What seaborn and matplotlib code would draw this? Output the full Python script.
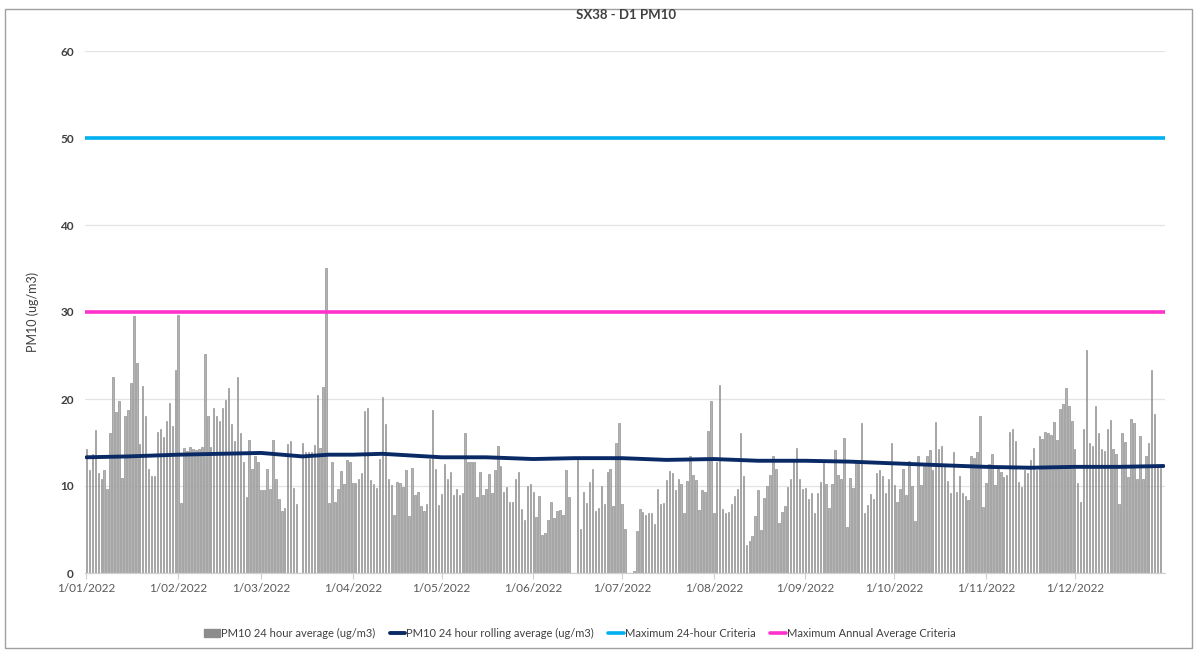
import numpy as np
import pandas as pd
import matplotlib
matplotlib.use("Agg")
import matplotlib.pyplot as plt
from matplotlib.patches import Rectangle, Patch
from matplotlib.lines import Line2D
import seaborn as sns

nan = np.nan

# Daily PM10 24 hour average (ug/m3), 1 Jan 2022 .. 31 Dec 2022
pm10_jan_feb = [
    14.3, 11.8, 13.7, 16.4, 11.5, 10.8, 11.8, 9.7, 16.1, 22.5,
    18.5, 19.8, 10.9, 18.0, 18.7, 21.8, 29.5, 24.1, 14.8, 21.5,
    18.1, 11.9, 11.1, 11.2, 16.2, 16.6, 15.6, 17.5, 19.5, 16.9,
    23.3, 29.7, 8.1, 14.4, 14.0, 14.5, 14.3, 14.1, 14.3, 14.5,
    25.2, 18.0, 14.5, 19.0, 18.0,
]
pm10_feb_apr = [
    17.5, 19.0, 19.9, 21.3, 17.1, 15.2, 22.5, 16.1, 12.8, 8.7,
    15.3, 12.0, 13.5, 12.8, 9.5, 9.5, 12.0, 9.6, 15.3, 10.8,
    8.5, 7.1, 7.5, 14.8, 15.2, 9.8, 7.9, nan, 15.0, 13.9,
    13.9, 13.9, 14.7, 20.5, 14.4, 21.4, 35.1, 8.1, 12.8, 8.2,
    9.7, 11.7, 10.2, 13.0, 12.8, 10.3,
]
pm10_apr_may = [
    10.3, 10.8, 11.5, 18.6, 19.0, 10.7, 10.2, 9.8, 13.1,
    20.2, 17.1, 10.8, 10.1, 6.7, 10.5, 10.3, 9.9, 11.8, 6.5,
    12.1, 9.0, 9.3, 7.7, 7.1, 7.9, 13.1, 18.7, 12.0, 7.8,
    9.1, 12.5, 10.8, 11.6, 9.0, 9.6, 9.0, 9.2, 16.1, 12.8,
    12.8, 12.8, 8.7, 11.6, 9.0,
]
pm10_may_jul = [
    9.7, 11.4, 9.2, 11.8, 14.6,
    12.3, 9.3, 9.9, 8.2, 8.2, 10.8, 11.6, 7.4, 6.1, 10.0,
    10.2, 9.3, 6.4, 8.9, 4.4, 4.6, 6.1, 8.2, 6.3, 7.1,
    7.2, 6.7, 11.8, 8.7, nan, nan, 13.0, 5.1, 9.3, 8.1,
    10.5, 12.0, 7.1, 7.5, 10.0, 7.9, 11.6, 12.0, 7.7, 15.0,
    17.2, 7.9,
]
pm10_jul_aug = [
    5.1, nan, nan, 0.2, 4.8, 7.3, 7.0,
    6.7, 6.9, 6.9, 5.6, 9.7, 7.9, 8.1, 10.7, 11.7, 11.5,
    9.5, 10.8, 10.2, 6.9, 10.6, 13.4, 11.3, 10.7, 7.2, 9.5,
    9.3, 16.3, 19.8, 6.9, 12.8, 21.6, 7.3, 6.9, 7.0, 7.9,
    8.9, 9.7, 16.1, 11.1, 3.2, 3.7, 4.3, 6.6,
]
pm10_aug_sep = [
    9.5, 4.9,
    8.6, 10.0, 11.3, 13.4, 12.0, 5.8, 7.0, 7.7, 9.9, 10.8,
    12.8, 14.4, 10.8, 9.7, 9.8, 8.5, 9.2, 6.9, 9.2, 10.5,
    12.7, 10.2, 7.5, 10.2, 14.1, 11.3, 10.8, 15.5, 5.3, 10.9,
    9.8, 12.6, 12.6, 17.2, 6.9, 7.8, 9.1, 8.5, 11.5, 11.8,
    11.1, 9.2, 10.8, 15.0,
]
pm10_oct_nov = [
    10.1, 8.2, 9.6, 12.0, 9.0, 12.9,
    10.0, 6.0, 13.4, 10.1, 12.6, 13.5, 14.1, 11.8, 17.4, 14.3,
    14.6, 12.4, 10.6, 9.2, 13.9, 9.3, 11.2, 9.2, 8.9, 8.4,
    13.4, 13.2, 13.9, 18.0, 7.6, 10.3, 12.5, 13.7, 10.1, 11.9,
    11.6, 11.0, 11.3, 16.2, 16.6, 15.2, 10.5, 9.9, 11.8,
]
pm10_nov_dec = [
    11.5,
    13.0, 14.4, 11.8, 15.7, 15.4, 16.2, 16.1, 15.9, 17.3, 15.3,
    18.9, 19.4, 21.3, 19.2, 17.5, 14.3, 10.4, 8.2, 16.6, 25.6,
    14.9, 14.6, 19.2, 16.1, 14.2, 14.0, 16.6, 17.6, 14.3, 13.7,
    7.9, 16.1, 15.1, 11.0, 17.7, 17.2, 10.8, 15.7, 10.8, 13.4,
    14.9, 23.3, 18.3, 12.3, 12.1,
]
pm10_daily = (pm10_jan_feb + pm10_feb_apr + pm10_apr_may + pm10_may_jul
              + pm10_jul_aug + pm10_aug_sep + pm10_oct_nov + pm10_nov_dec)

# Rolling average (read at selected days of year)
roll_days = [0, 14, 31, 45, 59, 73, 82, 90, 100, 110, 120, 135, 151, 165, 181,
             196, 212, 227, 243, 258, 273, 288, 304, 319, 334, 349, 364]
roll_vals = [13.3, 13.4, 13.6, 13.7, 13.8, 13.4, 13.6, 13.6, 13.7, 13.5, 13.3,
             13.3, 13.1, 13.2, 13.2, 13.0, 13.1, 12.9, 12.9, 12.8, 12.6, 12.4,
             12.2, 12.1, 12.2, 12.2, 12.3]

crit_24h = 50
crit_annual = 30

month_labels = ["1/01/2022", "1/02/2022", "1/03/2022", "1/04/2022", "1/05/2022",
                "1/06/2022", "1/07/2022", "1/08/2022", "1/09/2022", "1/10/2022",
                "1/11/2022", "1/12/2022"]
month_start_days = [0, 31, 59, 90, 120, 151, 181, 212, 243, 273, 304, 334]

title = "SX38 - D1 PM10"
ylabel = "PM10 (ug/m3)"
legend_labels = ["PM10 24 hour average (ug/m3)", "PM10 24 hour rolling average (ug/m3)",
                 "Maximum 24-hour Criteria", "Maximum Annual Average Criteria"]

# ---------------------------------------------------------------
sns.set_theme(style="white")
plt.rcParams["font.family"] = ["Lato", "DejaVu Sans"]

W, H = 1197, 652
fig = plt.figure(figsize=(W / 100, H / 100), dpi=100)
ax = fig.add_axes([85 / W, 1 - 573 / H, (1165 - 85) / W, (573 - 51) / H])

n = len(pm10_daily)
df = pd.DataFrame({"day": np.arange(n), "pm10": pm10_daily}).dropna()

bar_color = "#b4b4b4"
navy = "#0a2a66"
cyan = "#00b0f0"
magenta = "#ff33cc"

sns.barplot(data=df, x="day", y="pm10", native_scale=True, width=0.5,
            color=bar_color, edgecolor="#8a8a8a", linewidth=0.45,
            saturation=1, errorbar=None, ax=ax, zorder=2)

xmin, xmax = -0.5, 364.5
sns.lineplot(x=roll_days, y=roll_vals, color=navy, linewidth=2.8, ax=ax, zorder=4)
sns.lineplot(x=[xmin, xmax], y=[crit_24h, crit_24h], color=cyan, linewidth=2.6, ax=ax, zorder=3)
sns.lineplot(x=[xmin, xmax], y=[crit_annual, crit_annual], color=magenta, linewidth=2.6, ax=ax, zorder=3)

ax.set_xlim(xmin, xmax)
ax.set_ylim(0, 60)
ax.set_yticks(range(0, 61, 10))
ax.set_yticklabels([str(v) for v in range(0, 61, 10)], fontsize=8.5,
                   fontweight="bold", color="#404040")
ax.yaxis.grid(True, color="#e3e3e3", linewidth=0.9, zorder=0)
ax.set_axisbelow(True)
ax.set_xticks(month_start_days)
ax.set_xticklabels(month_labels, fontsize=8.5, color="#595959")
ax.tick_params(axis="x", length=4, width=0.8, color="#d0d0d0", pad=3, bottom=True)
ax.tick_params(axis="y", length=0, pad=8)
for s in ["top", "right", "left"]:
    ax.spines[s].set_visible(False)
ax.spines["bottom"].set_color("#d0d0d0")
ax.spines["bottom"].set_linewidth(0.9)
ax.set_xlabel("")
ax.set_ylabel(ylabel, fontsize=9, color="#404040", labelpad=15)

fig.text(626 / W, 1 - 15 / H, title, ha="center", va="center", fontsize=9.5,
         fontweight="bold", color="#404040")

handles = [Patch(facecolor="#8c8c8c", edgecolor="#8c8c8c"),
           Line2D([], [], color=navy, linewidth=2.8),
           Line2D([], [], color=cyan, linewidth=2.6),
           Line2D([], [], color=magenta, linewidth=2.6)]
fig.legend(handles, legend_labels, loc="center", bbox_to_anchor=(580 / W, 1 - 633 / H),
           ncol=4, frameon=False, fontsize=8, handlelength=1.4, handleheight=0.7,
           handletextpad=0.1, columnspacing=1.3, labelcolor="#404040")

fig.patches.append(Rectangle((5 / W, 1 - 648 / H), (1192 - 5) / W, (648 - 9) / H,
                             transform=fig.transFigure, fill=False,
                             edgecolor="#a0a0a0", linewidth=1.0))

fig.savefig("out.png", dpi=100)
